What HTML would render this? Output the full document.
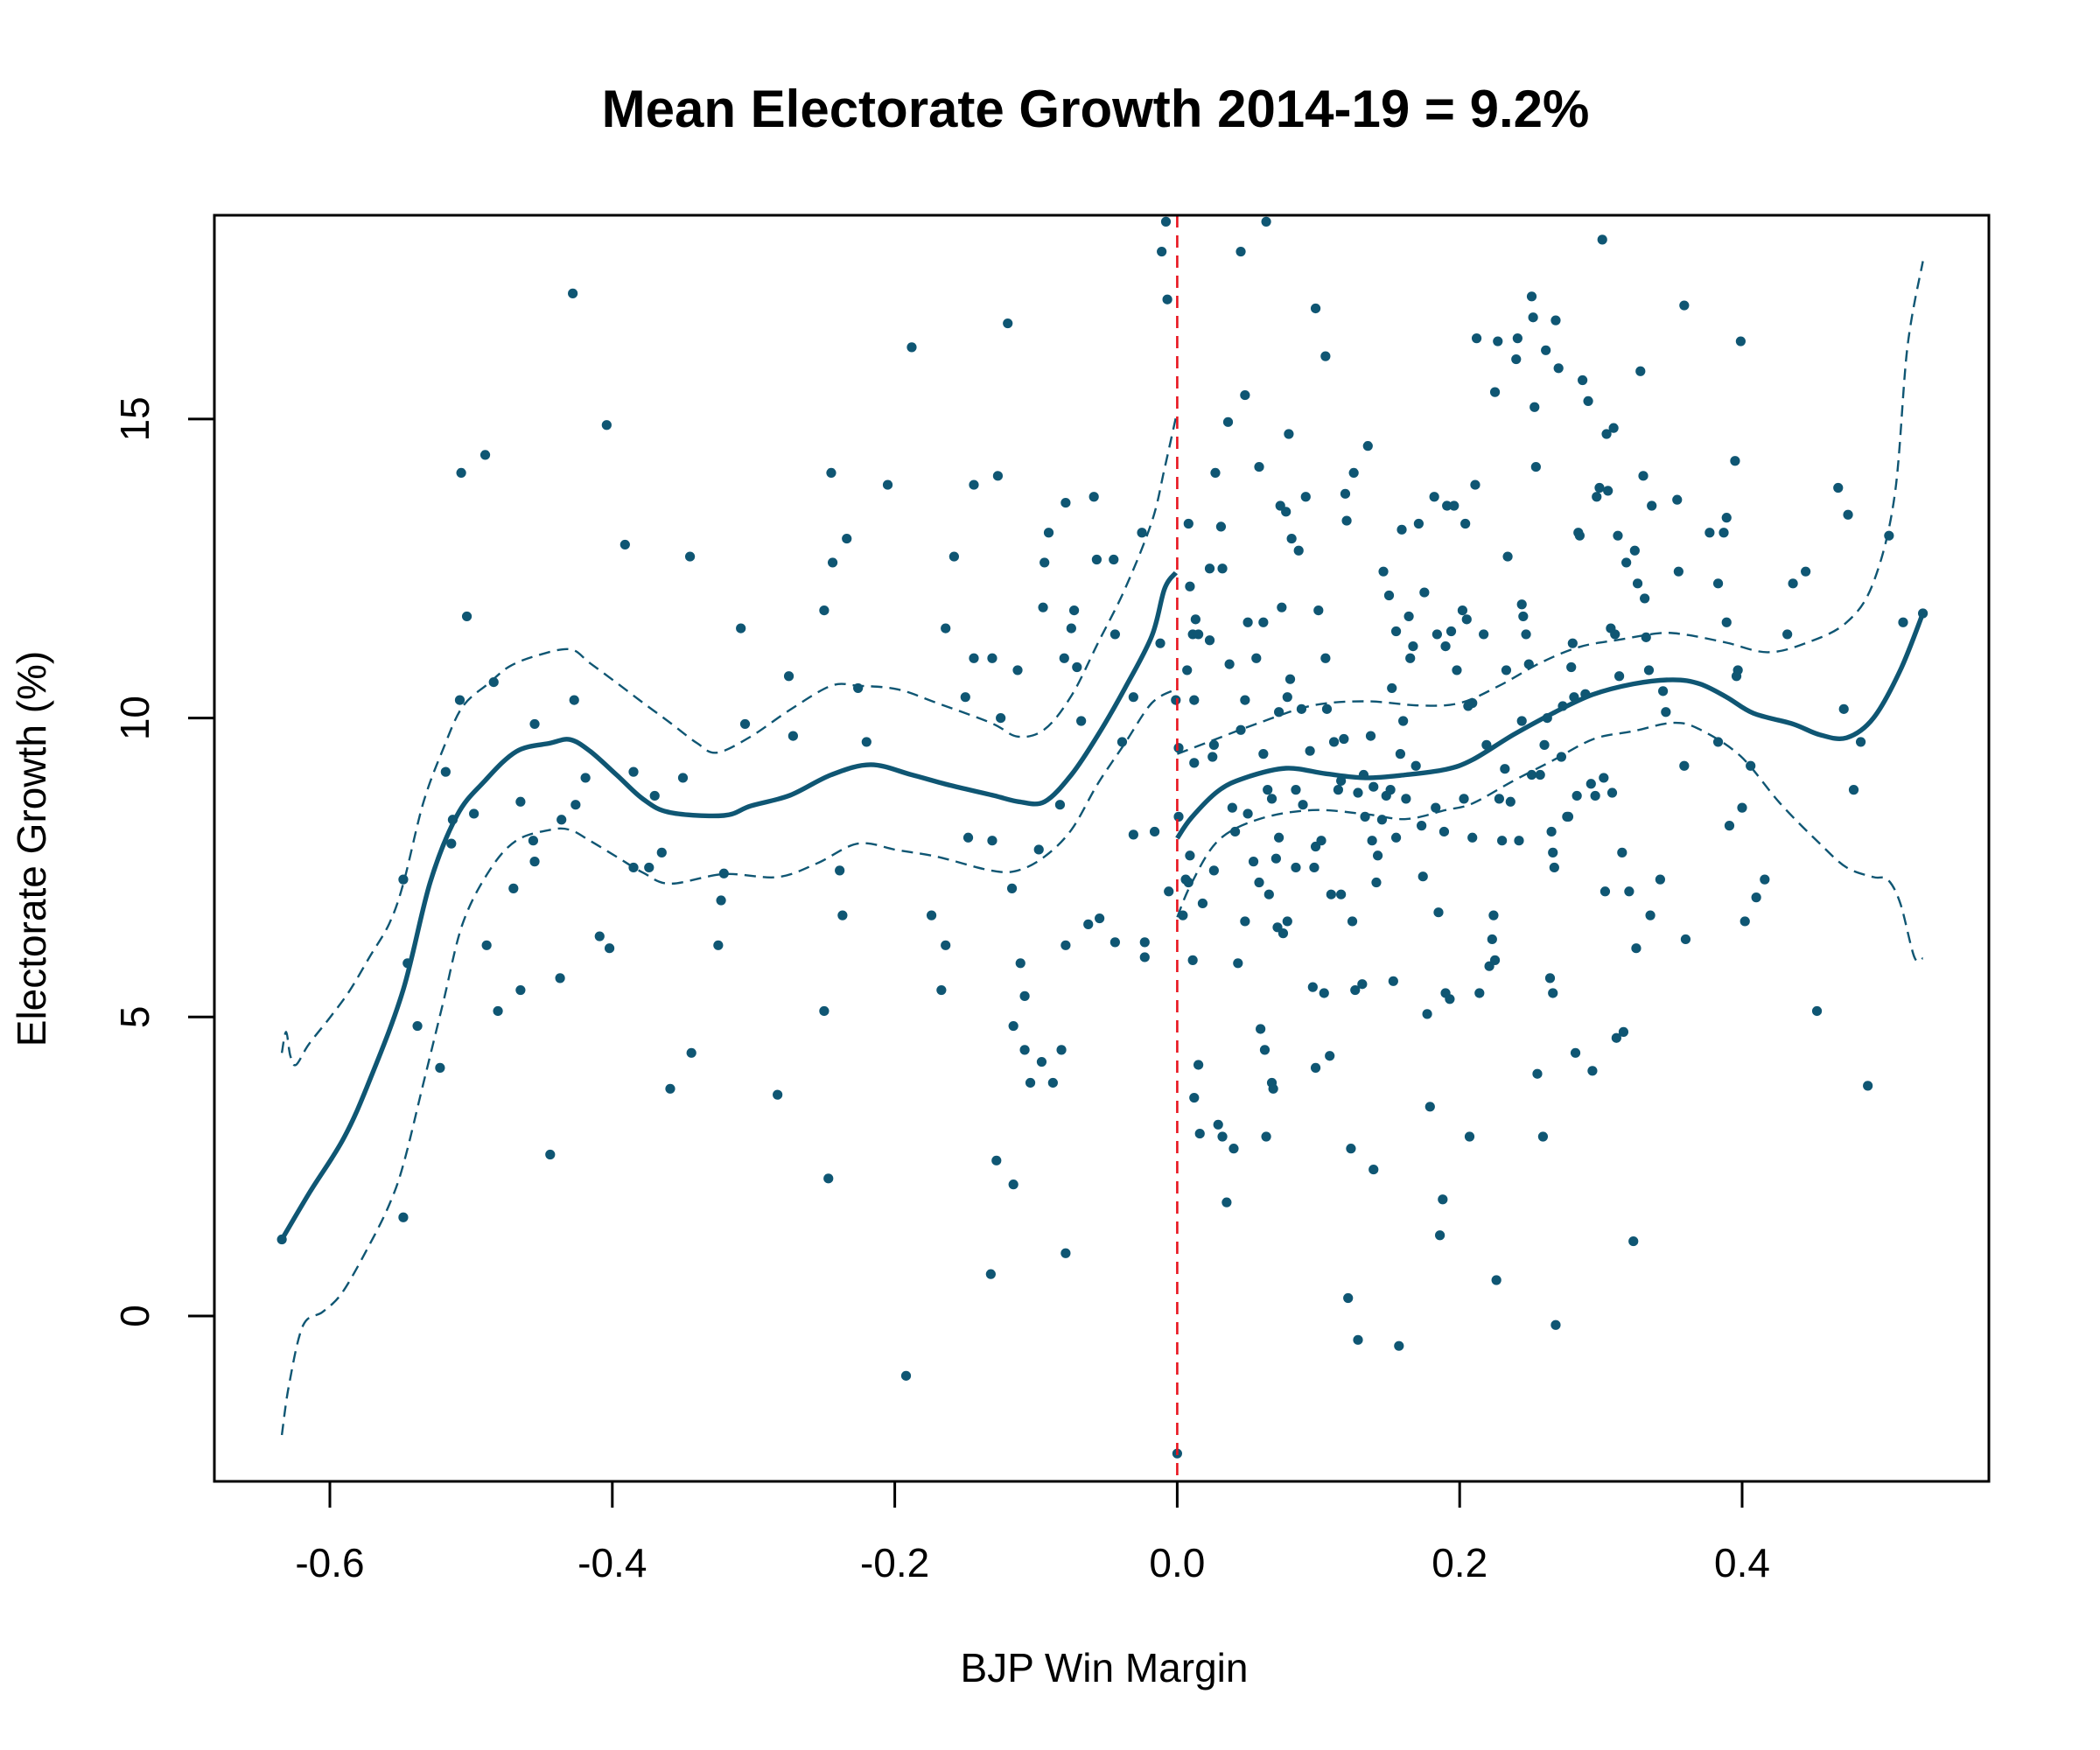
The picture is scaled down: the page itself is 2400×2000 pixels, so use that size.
<!DOCTYPE html>
<html><head><meta charset="utf-8"><style>
html,body{margin:0;padding:0;background:#fff;}
svg{display:block;font-family:"Liberation Sans",Arial,sans-serif;}
</style></head><body>
<svg id="chart" width="2400" height="2000" viewBox="0 0 2400 2000">
<rect x="0" y="0" width="2400" height="2000" fill="#fff"/>
<text x="1252" y="145" font-size="60" font-weight="bold" text-anchor="middle">Mean Electorate Growth 2014-19 = 9.2%</text>
<text x="1262" y="1922" font-size="46" text-anchor="middle">BJP Win Margin</text>
<text transform="translate(52,970) rotate(-90)" font-size="46" text-anchor="middle">Electorate Growth (%)</text>
<g id="plot"></g>
</svg>
<script>
const xTicks=[-0.6,-0.4,-0.2,0.0,0.2,0.4];
const xTickLabels=["-0.6","-0.4","-0.2","0.0","0.2","0.4"];
const yTicks=[0,5,10,15];
const yTickLabels=["0","5","10","15"];
const pointsX=[-0.634,-0.428,-0.404,-0.49,-0.507,-0.503,-0.391,-0.508,-0.484,-0.427,-0.518,-0.455,-0.513,-0.498,-0.514,-0.465,-0.426,-0.436,-0.419,-0.456,-0.455,-0.47,-0.548,-0.489,-0.465,-0.437,-0.481,-0.545,-0.538,-0.522,-0.548,-0.444,-0.409,-0.402,-0.385,-0.37,-0.385,-0.374,-0.365,-0.35,-0.345,-0.344,-0.359,-0.325,-0.321,-0.323,-0.309,-0.306,-0.283,-0.275,-0.272,-0.25,-0.245,-0.244,-0.234,-0.25,-0.247,-0.239,-0.237,-0.226,-0.22,-0.205,-0.188,-0.192,-0.174,-0.167,-0.164,-0.164,-0.158,-0.15,-0.148,-0.144,-0.144,-0.131,-0.127,-0.131,-0.128,-0.132,-0.125,-0.12,-0.116,-0.117,-0.113,-0.111,-0.108,-0.116,-0.108,-0.104,-0.096,-0.098,-0.095,-0.094,-0.091,-0.088,-0.083,-0.082,-0.079,-0.079,-0.079,-0.08,-0.075,-0.073,-0.071,-0.068,-0.063,-0.059,-0.055,-0.057,-0.045,-0.044,-0.044,-0.039,-0.031,-0.031,-0.025,-0.023,-0.023,-0.016,-0.012,-0.011,-0.008,-0.007,-0.006,-0.001,
0,0.001,0.001,0.004,0.006,0.007,0.011,0.009,0.008,0.012,0.013,0.015,0.012,0.009,0.008,0.011,0.012,0.015,0.016,0.018,0.023,0.023,0.025,0.026,0.026,0.027,0.029,0.031,0.032,0.032,0.035,0.036,0.037,0.039,0.04,0.041,0.043,0.045,0.045,0.048,0.048,0.048,0.05,0.05,0.054,0.056,0.058,0.058,0.059,0.061,0.061,0.062,0.063,0.063,0.064,0.065,0.067,0.067,0.068,0.07,0.071,0.072,0.072,0.073,0.074,0.075,0.077,0.078,0.078,0.079,0.08,0.081,0.084,0.084,0.086,0.088,0.089,0.091,0.094,0.096,0.097,0.098,0.098,0.098,0.1,0.102,0.104,0.105,0.105,0.106,0.108,0.109,0.111,0.114,0.116,0.116,0.118,0.119,0.12,0.121,0.123,0.124,0.125,0.126,0.128,0.128,0.131,0.132,0.133,0.135,0.137,0.138,0.139,0.139,0.141,0.142,0.145,0.146,0.148,0.15,0.151,0.152,0.153,0.155,0.155,0.157,0.158,0.159,0.16,0.162,0.164,0.165,0.167,0.169,0.171,0.173,0.174,0.175,0.177,0.179,0.182,0.183,0.184,0.185,0.186,0.188,0.189,0.19,0.19,0.191,0.193,0.194,0.196,0.198,0.202,0.203,0.204,0.205,0.206,0.207,0.209,0.209,0.211,0.212,0.214,0.217,0.219,0.221,0.223,0.224,0.225,0.225,0.226,0.227,0.228,0.23,0.232,0.233,0.234,0.236,0.24,0.241,0.242,0.244,0.244,0.245,0.247,0.249,0.251,0.251,0.252,0.253,0.254,0.255,0.257,0.259,0.26,0.261,0.262,0.264,0.265,0.266,0.266,0.267,0.268,0.268,0.27,0.272,0.273,0.276,0.277,0.279,0.28,0.281,0.282,0.283,0.284,0.285,0.287,0.289,0.291,0.293,0.294,0.296,0.297,0.299,0.301,0.302,0.303,0.304,0.305,0.307,0.308,0.309,0.31,0.311,0.312,0.313,0.315,0.316,0.318,0.32,0.323,0.324,0.325,0.326,0.328,0.33,0.331,0.332,0.334,0.335,0.336,0.342,0.344,0.346,0.354,0.355,0.359,0.359,0.36,0.377,0.383,0.383,0.387,0.389,0.389,0.391,0.395,0.396,0.397,0.399,0.4,0.402,0.406,0.41,0.416,0.432,0.436,0.445,0.453,0.468,0.472,0.475,0.479,0.484,0.489,0.504,0.514,0.528];
const pointsY=[1.28,17.1,14.9,14.4,14.1,11.7,12.9,10.3,10.6,10.3,9.1,9.9,8.3,8.4,7.9,8.6,8.55,8.3,9.0,7.95,7.6,7.15,7.3,6.2,5.45,5.65,5.1,5.9,4.85,4.15,1.65,2.7,6.35,6.15,9.1,8.7,7.5,7.5,7.75,9.0,12.7,4.4,3.8,6.2,7.4,6.95,11.5,9.9,3.7,10.7,9.7,11.8,14.1,12.6,13.0,5.1,2.3,7.45,6.7,10.5,9.6,13.9,16.2,-1.0,6.7,5.45,11.5,6.2,12.7,10.35,8.0,13.9,11.0,11.0,14.05,7.95,2.6,0.7,10.0,16.6,2.2,7.15,10.8,5.9,5.35,4.85,4.45,3.9,4.25,7.8,11.85,12.6,13.1,3.9,8.55,4.45,1.05,6.2,13.6,11.0,11.5,11.8,10.85,9.95,6.55,13.7,6.65,12.65,12.65,11.4,6.25,9.6,10.35,8.05,13.1,6.25,6.0,8.1,11.25,17.8,18.3,17.0,7.1,10.3,
-2.3,9.5,8.35,6.7,7.3,10.8,11.4,12.2,13.25,10.3,11.65,11.4,9.25,7.7,7.25,5.95,3.65,4.2,3.05,6.9,12.5,11.3,9.35,9.55,7.45,14.1,3.2,13.2,12.5,3.0,1.9,14.95,10.9,8.5,2.8,8.1,5.9,17.8,9.8,15.4,6.6,10.3,11.6,8.4,7.6,11.0,14.2,7.25,4.8,9.4,11.6,4.45,3.0,18.3,8.8,7.05,8.65,3.9,3.8,7.65,6.5,10.1,8.0,13.55,11.85,6.4,13.45,10.35,6.6,14.75,10.65,13.0,8.8,7.5,12.8,10.15,8.55,13.7,9.45,5.5,7.5,7.85,4.15,16.85,11.8,7.95,5.4,16.05,11.0,10.15,4.35,7.05,9.6,8.8,7.05,8.95,9.65,13.75,13.3,0.3,2.8,6.6,14.1,5.45,8.75,-0.4,5.55,9.05,8.35,14.55,9.7,7.95,8.85,2.45,7.25,7.7,8.3,12.45,8.7,12.05,8.8,10.5,5.6,11.45,8.0,-0.5,9.4,13.15,9.95,8.65,11.7,11.0,11.2,9.2,13.25,8.2,7.35,12.1,5.05,3.5,13.7,8.5,11.4,6.75,1.35,1.95,8.1,11.2,5.4,13.55,5.3,11.45,13.55,10.8,11.8,8.65,13.25,11.65,10.2,3.0,10.25,8.0,13.9,16.35,5.4,11.4,9.55,5.85,6.3,6.7,15.45,5.95,0.6,16.3,8.65,7.95,9.15,10.8,12.7,8.6,16.0,16.35,7.95,9.95,11.9,11.7,11.4,10.9,17.05,9.05,16.7,15.2,14.2,4.05,9.05,3.0,9.55,16.15,10.0,5.65,8.1,7.75,5.4,7.5,16.65,-0.15,15.85,9.35,10.2,8.35,8.35,10.85,11.25,10.35,4.4,8.7,13.1,13.05,15.65,10.4,15.3,8.9,4.1,8.7,13.7,13.85,18.0,9.0,7.1,14.75,13.8,11.5,8.75,14.85,11.4,4.65,13.05,10.7,7.75,4.75,12.6,7.1,1.25,12.8,6.15,12.25,15.8,14.05,12.0,11.35,10.8,6.7,13.55,7.3,10.45,10.1,13.65,12.45,16.9,9.2,6.3,13.1,12.25,9.6,13.1,13.35,11.6,8.2,14.3,10.7,10.8,16.3,8.5,6.6,9.2,7.0,7.3,11.4,12.25,12.45,5.1,13.85,10.15,13.4,8.8,9.6,3.85,13.05,11.6,11.75];
const meanLeftX=[-0.634,-0.614,-0.59,-0.571,-0.548,-0.529,-0.51,-0.491,-0.468,-0.444,-0.43,-0.416,-0.397,-0.378,-0.359,-0.321,-0.302,-0.274,-0.245,-0.217,-0.188,-0.16,-0.131,-0.112,-0.094,-0.075,-0.056,-0.037,-0.018,-0.009,-0.001];
const meanLeftY=[1.28,2.08,2.98,3.99,5.46,7.25,8.37,8.93,9.44,9.58,9.64,9.45,9.05,8.64,8.42,8.37,8.53,8.71,9.05,9.22,9.05,8.87,8.71,8.6,8.6,9.05,9.72,10.5,11.37,12.16,12.43];
const meanRightX=[0,0.01,0.029,0.048,0.077,0.105,0.133,0.162,0.19,0.209,0.238,0.266,0.294,0.323,0.351,0.37,0.389,0.408,0.436,0.455,0.474,0.493,0.512,0.528];
const meanRightY=[7.99,8.33,8.78,9.0,9.16,9.07,9.0,9.05,9.14,9.3,9.72,10.08,10.39,10.57,10.64,10.57,10.35,10.08,9.9,9.72,9.67,10.0,10.8,11.75];
const upperLeftX=[-0.634,-0.631,-0.628,-0.624,-0.615,-0.6,-0.586,-0.572,-0.558,-0.548,-0.534,-0.52,-0.506,-0.487,-0.473,-0.454,-0.43,-0.416,-0.397,-0.378,-0.359,-0.34,-0.326,-0.302,-0.274,-0.245,-0.226,-0.198,-0.17,-0.132,-0.113,-0.094,-0.075,-0.056,-0.037,-0.018,-0.009,-0.001];
const upperLeftY=[4.4,4.75,4.35,4.2,4.54,4.99,5.44,6.0,6.56,7.23,8.57,9.47,10.19,10.59,10.86,11.04,11.15,10.92,10.59,10.25,9.92,9.58,9.42,9.69,10.14,10.54,10.54,10.48,10.25,9.92,9.69,9.81,10.37,11.26,12.16,13.28,14.17,15.02];
const lowerLeftX=[-0.634,-0.629,-0.619,-0.605,-0.591,-0.572,-0.558,-0.548,-0.534,-0.52,-0.506,-0.487,-0.468,-0.444,-0.43,-0.416,-0.397,-0.378,-0.359,-0.321,-0.283,-0.255,-0.226,-0.198,-0.17,-0.132,-0.113,-0.094,-0.075,-0.056,-0.037,-0.018,-0.001];
const lowerLeftY=[-1.99,-1.16,-0.16,0.07,0.4,1.19,1.86,2.53,3.87,5.22,6.56,7.45,7.95,8.13,8.13,7.95,7.68,7.41,7.23,7.39,7.34,7.57,7.9,7.79,7.68,7.45,7.45,7.68,8.13,8.91,9.58,10.25,10.48];
const upperRightX=[0,0.02,0.058,0.096,0.134,0.171,0.2,0.228,0.257,0.285,0.313,0.342,0.361,0.389,0.418,0.446,0.474,0.493,0.508,0.517,0.528];
const upperRightY=[9.4,9.58,9.92,10.21,10.28,10.21,10.25,10.54,10.92,11.19,11.31,11.42,11.39,11.26,11.1,11.26,11.6,12.27,13.72,16.19,17.64];
const lowerRightX=[0,0.01,0.029,0.058,0.096,0.134,0.162,0.19,0.209,0.238,0.266,0.295,0.323,0.351,0.37,0.399,0.427,0.455,0.474,0.493,0.503,0.512,0.522,0.528];
const lowerRightY=[6.67,7.23,7.95,8.31,8.46,8.39,8.31,8.46,8.57,8.95,9.29,9.65,9.78,9.92,9.81,9.36,8.57,7.9,7.5,7.34,7.3,6.9,6.0,5.98];

const NS="http://www.w3.org/2000/svg";
const L=245,R=2273,T=246,B=1693;
function sx(v){return 1345.4+v*1614;}
function sy(v){return 1504-v*68.34;}
const g=document.getElementById('plot');
function mk(tag,attrs){const e=document.createElementNS(NS,tag);for(const k in attrs)e.setAttribute(k,attrs[k]);g.appendChild(e);return e;}

xTicks.forEach((t,i)=>{
  const ln=mk('line',{x1:sx(t),x2:sx(t),y1:B,y2:B+30,stroke:'#000','stroke-width':3});
  
  
  const tx=mk('text',{x:sx(t),y:1802,'font-size':46,'text-anchor':'middle'});
  tx.textContent=xTickLabels[i];
  
  
});
yTicks.forEach((t,i)=>{
  const ln=mk('line',{x1:L-30,x2:L,y1:sy(t),y2:sy(t),stroke:'#000','stroke-width':3});
  
  
  const tx=mk('text',{transform:`translate(170,${sy(t)}) rotate(-90)`,'font-size':46,'text-anchor':'middle'});
  tx.textContent=yTickLabels[i];
  
  
});

const col='#0f5673';
for(let i=0;i<pointsX.length;i++){
  const c=mk('circle',{cx:sx(pointsX[i]),cy:sy(pointsY[i]),r:5.6,fill:col});
  
  
}
function line(xs,ys,w,dash,name){
  const P=xs.map((x,i)=>[sx(x),sy(ys[i])]);
  let d='M'+P[0][0].toFixed(1)+','+P[0][1].toFixed(1);
  for(let i=0;i<P.length-1;i++){
    const p0=P[i-1]||P[i],p1=P[i],p2=P[i+1],p3=P[i+2]||P[i+1];
    const c1=[p1[0]+(p2[0]-p0[0])/6,p1[1]+(p2[1]-p0[1])/6];
    const c2=[p2[0]-(p3[0]-p1[0])/6,p2[1]-(p3[1]-p1[1])/6];
    d+=` C${c1[0].toFixed(1)},${c1[1].toFixed(1)} ${c2[0].toFixed(1)},${c2[1].toFixed(1)} ${p2[0].toFixed(1)},${p2[1].toFixed(1)}`;
  }
  const p=mk('path',{d:d,fill:'none',stroke:col,'stroke-width':w,'stroke-linejoin':'round'});
  if(dash)p.setAttribute('stroke-dasharray',dash);
  
  
}
line(upperLeftX,upperLeftY,2.4,'13,8','upper-band-left');
line(lowerLeftX,lowerLeftY,2.4,'13,8','lower-band-left');
line(upperRightX,upperRightY,2.4,'13,8','upper-band-right');
line(lowerRightX,lowerRightY,2.4,'13,8','lower-band-right');
line(meanLeftX,meanLeftY,5.4,null,'mean-line-left');
line(meanRightX,meanRightY,5.4,null,'mean-line-right');

const v=mk('line',{x1:sx(0),x2:sx(0),y1:T,y2:B,stroke:'#e8141e','stroke-width':2.6,'stroke-dasharray':'14,9'});


const box=mk('rect',{x:L,y:T,width:R-L,height:B-T,fill:'none',stroke:'#000','stroke-width':3});


</script>
</body></html>
